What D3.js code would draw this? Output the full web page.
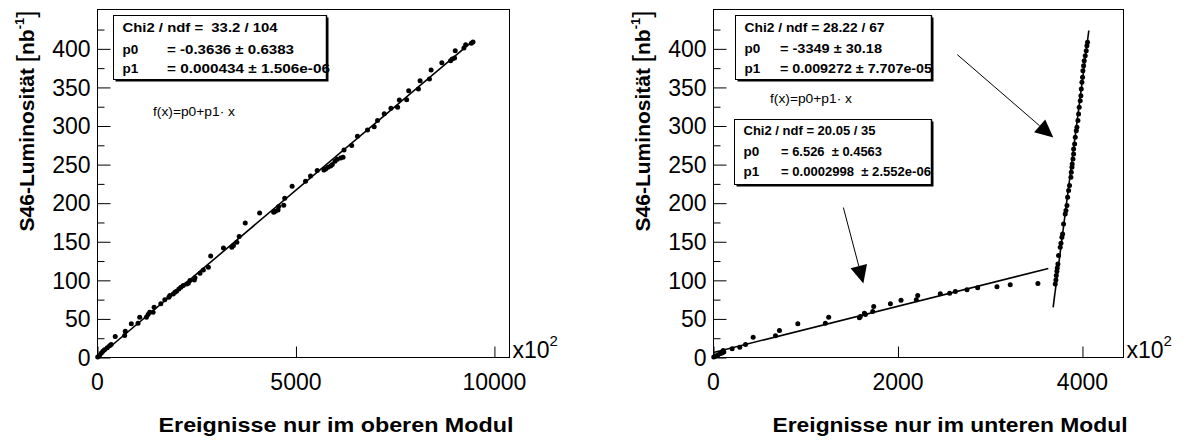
<!DOCTYPE html>
<html>
<head>
<meta charset="utf-8">
<script src="https://cdn.jsdelivr.net/npm/d3@7"></script>
<style>
  html, body { margin: 0; padding: 0; background: #fff; }
  svg { display: block; font-family: "Liberation Sans", Arial, Helvetica, sans-serif; }
  text { white-space: pre; }
</style>
</head>
<body>
<svg id="chart" width="1187" height="440"></svg>
<script>
// ---------------- data (x in units of 10^2 events, y in nb^-1) ----------------
const leftX = [5, 51, 93, 135, 177, 245, 304, 346, 447, 684, 700, 852, 1021, 1063, 1232, 1274, 1316, 1401, 1426, 1595,
  1696, 1797, 1823, 1907, 1949, 1992, 2051, 2101, 2160, 2245, 2287, 2329, 2439, 2456, 2582, 2667, 2793, 2852, 3173, 3384,
  3426, 3511, 3570, 3722, 4084, 4439, 4481, 4549, 4565, 4692, 4717, 4903, 5241, 5367, 5536, 5705, 5747, 5806, 5873, 5916,
  5983, 6042, 6127, 6186, 6211, 6405, 6549, 6802, 6971, 7055, 7224, 7393, 7561, 7604, 7789, 7840, 8085, 8127, 8363, 8405,
  8675, 8895, 8937, 8996, 9013, 9232, 9275, 9418, 9460];
const leftY = [0.5, 2.5, 5.6, 8.2, 9.9, 12.5, 15.1, 16.8, 27.2, 28.5, 34.1, 43.6, 44.4, 52.2, 52.2, 55.7, 58.7, 58.7, 65.2, 69.5,
  74.7, 78.1, 80.3, 82.4, 84.6, 85.9, 88.9, 91.1, 93.2, 95.4, 96.3, 99.7, 100.6, 103.2, 109.2, 113.5, 117.0, 131.7, 142.0, 142.9,
  145.0, 149.4, 156.7, 174.4, 187.4, 188.2, 189.5, 191.2, 195.6, 197.3, 206.4, 221.9, 228.4, 235.3, 242.2, 243.1, 244.4, 246.5, 248.2, 250.0,
  254.3, 256.9, 258.6, 259.5, 269.0, 274.6, 286.7, 294.9, 299.2, 307.0, 316.0, 323.0, 324.2, 333.8, 334.2, 345.8, 348.0, 358.8, 360.9, 372.6,
  382.1, 384.7, 386.9, 388.1, 397.6, 401.1, 405.4, 407.1, 408.9];

const rightX = [3, 22, 47, 69, 94, 112, 105, 202, 285, 347, 430, 672, 715, 914, 1213, 1249, 1582, 1592, 1636, 1647,
  1726, 1737, 1918, 2033, 2199, 2214, 2459, 2560, 2622, 2748, 2864, 3073, 3217, 3517,
  3705, 3712, 3716, 3723, 3727, 3734, 3741, 3759, 3767, 3777, 3785, 3795, 3813, 3821, 3832, 3839, 3850, 3860, 3875, 3879,
  3886, 3889, 3897, 3904, 3904, 3915, 3922, 3933, 3940, 3951, 3958, 3965, 3976, 3983, 3987, 3994, 4001, 4005, 4012, 4019,
  4030, 4041, 4048, 4055];
const rightY = [0.5, 1.8, 3.1, 4.8, 5.7, 7.0, 9.1, 11.3, 13.4, 16.9, 26.4, 28.1, 35.0, 43.6, 44.5, 52.3, 51.4, 53.2, 57.5, 55.7,
  59.6, 66.1, 69.6, 74.3, 74.7, 80.4, 82.5, 83.4, 85.5, 87.7, 90.3, 91.6, 94.2, 95.9,
  95.4, 100.6, 106.2, 111.8, 116.1, 121.3, 132.1, 142.9, 148.1, 155.8, 160.2, 173.1, 186.1, 190.4, 196.9, 207.7, 216.3, 222.8, 233.6, 240.0,
  246.5, 250.8, 257.3, 263.8, 270.3, 276.7, 285.4, 294.0, 298.3, 307.0, 315.6, 324.2, 332.9, 339.3, 348.0, 356.6, 363.1, 371.7, 378.2, 384.7,
  391.2, 397.6, 404.1, 408.4];

// fit results (p0, p1 per 10^2 events) and drawn ranges
const leftFit = [-0.3636, 0.0434];
const leftFitRange = [0, 9460];
const rightFitLow = [6.526, 0.02998];
const rightFitLowRange = [0, 3630];
const rightFitHigh = [-3349, 0.9272];
const rightFitHighRange = [3682, 4069];

// tick values
const yTicksMajor = [0, 50, 100, 150, 200, 250, 300, 350, 400];
const yTicksMinor = [25, 75, 125, 175, 225, 275, 325, 375, 425];
const xTicksLeft = [0, 5000, 10000];
const xTicksRight = [0, 2000, 4000];
const xDomainLeft = [0, 10380];
const xDomainRight = [0, 4445];
const yDomain = [0, 451];

// stat box texts
const statLeft = [["Chi2 / ndf =  33.2 / 104", ""], ["p0", "= -0.3636 \u00b1 0.6383"], ["p1", "= 0.000434 \u00b1 1.506e-06"]];
const statRight1 = [["Chi2 / ndf = 28.22 / 67", ""], ["p0", "= -3349 \u00b1 30.18"], ["p1", "= 0.009272 \u00b1 7.707e-05"]];
const statRight2 = [["Chi2 / ndf = 20.05 / 35", ""], ["p0", "= 6.526  \u00b1 0.4563"], ["p1", "= 0.0002998  \u00b1 2.552e-06"]];

// arrows (data coordinates, right panel): [x0, y0, x1(tip), y1(tip)]
const arrows = [[2643, 392.5, 3684, 285], [1408, 194.3, 1625, 95.9]];

// ---------------- drawing ----------------
const svg = d3.select("#chart");
svg.append("rect").attr("width", 1187).attr("height", 440).attr("fill", "#fff");

function panel(opts) {
  const { left, right, top, bottom, xDomain, xTicks, px, py, fits, title, stats, fLabel } = opts;
  const x = d3.scaleLinear().domain(xDomain).range([left, right]);
  const y = d3.scaleLinear().domain(yDomain).range([bottom, top]);
  const g = svg.append("g");

  // frame
  g.append("rect").attr("x", left).attr("y", top).attr("width", right - left).attr("height", bottom - top)
    .attr("fill", "none").attr("stroke", "#000").attr("stroke-width", 1);

  // y axis: major + minor ticks (inside)
  const yAxisMaj = d3.axisRight(y).tickValues(yTicksMajor).tickSize(13).tickFormat("");
  const yAxisMin = d3.axisRight(y).tickValues(yTicksMinor).tickSize(7).tickFormat("");
  [yAxisMaj, yAxisMin].forEach(ax => {
    const a = g.append("g").attr("transform", `translate(${left},0)`).call(ax);
    a.select(".domain").remove();
    a.selectAll("line").attr("stroke", "#000");
  });
  // y labels
  g.append("g").selectAll("text").data(yTicksMajor).join("text")
    .attr("x", left - 7).attr("y", d => y(d)).attr("dy", "0.36em")
    .attr("text-anchor", "end").attr("font-size", 23).text(d => d);

  // x axis ticks (inside, upward)
  const xa = g.append("g").attr("transform", `translate(0,${bottom})`)
    .call(d3.axisTop(x).tickValues(xTicks).tickSize(11).tickFormat(""));
  xa.select(".domain").remove();
  xa.selectAll("line").attr("stroke", "#000");
  g.append("g").selectAll("text").data(xTicks).join("text")
    .attr("x", d => x(d)).attr("y", bottom + 32)
    .attr("text-anchor", "middle").attr("font-size", 23).text(d => d);

  // x10^2
  const xt = g.append("text").attr("x", right + 3).attr("y", bottom).attr("font-size", 23);
  xt.append("tspan").text("x10");
  xt.append("tspan").attr("dy", -12).attr("font-size", 15).text("2");

  // axis titles
  g.append("text").attr("x", right + 4).attr("y", 432).attr("text-anchor", "end")
    .attr("font-size", 21).attr("font-weight", "bold")
    .attr("textLength", 355).attr("lengthAdjust", "spacingAndGlyphs").text(title);
  const yt = g.append("text").attr("transform", `translate(${left - 64},${top + 1}) rotate(-90)`)
    .attr("text-anchor", "end").attr("font-size", 21).attr("font-weight", "bold");
  yt.append("tspan").text("S46-Luminosit\u00e4t ");
  yt.append("tspan").attr("font-weight", "normal").attr("font-size", 26).attr("dy", 1).text("[");
  yt.append("tspan").attr("dy", -1).text("nb");
  yt.append("tspan").attr("font-size", 13).attr("dy", -10).text("-1");
  yt.append("tspan").attr("font-weight", "normal").attr("font-size", 26).attr("dy", 11).text("]");

  // fit lines
  fits.forEach(([p, r]) => {
    const pts = r.map(v => [v, p[0] + p[1] * v]);
    g.append("path").attr("d", d3.line().x(d => x(d[0])).y(d => y(Math.max(d[1], 0)))(pts))
      .attr("stroke", "#000").attr("stroke-width", 1.6).attr("fill", "none");
  });

  // points
  g.append("g").selectAll("circle").data(px.map((v, i) => [v, py[i]])).join("circle")
    .attr("cx", d => x(d[0])).attr("cy", d => y(d[1])).attr("r", 2.5).attr("fill", "#000");

  // f(x) label
  g.append("text").attr("x", fLabel[0]).attr("y", fLabel[1]).attr("font-size", 13)
    .attr("textLength", 82).attr("lengthAdjust", "spacingAndGlyphs").text("f(x)=p0+p1\u00b7 x");

  // stat boxes
  stats.forEach(s => {
    const [bx, by, bw, bh, eqX, lines, bases, widths] = s;
    const sb = g.append("g");
    sb.append("rect").attr("x", bx + 2).attr("y", by + 2).attr("width", bw).attr("height", bh).attr("fill", "#000");
    sb.append("rect").attr("x", bx).attr("y", by).attr("width", bw).attr("height", bh)
      .attr("fill", "#fff").attr("stroke", "#000").attr("stroke-width", 1);
    lines.forEach((ln, i) => {
      const base = bases[i];
      const t0 = sb.append("text").attr("x", bx + 9).attr("y", base).attr("font-size", 13.5).attr("font-weight", "bold").text(ln[0]);
      if (!ln[1]) t0.attr("textLength", widths[i]).attr("lengthAdjust", "spacingAndGlyphs");
      if (ln[1]) sb.append("text").attr("x", eqX).attr("y", base).attr("font-size", 13.5).attr("font-weight", "bold")
        .attr("textLength", widths[i]).attr("lengthAdjust", "spacingAndGlyphs").text(ln[1]);
    });
    // re-stroke right border over overflowing text
    sb.append("line").attr("x1", bx + bw).attr("x2", bx + bw).attr("y1", by).attr("y2", by + bh)
      .attr("stroke", "#000").attr("stroke-width", 1.5);
  });

  return { x, y, g };
}

panel({
  left: 97.5, right: 509.5, top: 9.5, bottom: 357.5,
  xDomain: xDomainLeft, xTicks: xTicksLeft, px: leftX, py: leftY,
  fits: [[leftFit, leftFitRange]],
  title: "Ereignisse nur im oberen Modul",
  fLabel: [153, 116],
  stats: [[113.5, 15.5, 213, 64, 167, statLeft, [32, 54, 73], [155, 127, 163]]]
});

const R = panel({
  left: 713.5, right: 1123.5, top: 9.5, bottom: 357.5,
  xDomain: xDomainRight, xTicks: xTicksRight, px: rightX, py: rightY,
  fits: [[rightFitLow, rightFitLowRange], [rightFitHigh, rightFitHighRange]],
  title: "Ereignisse nur im unteren Modul",
  fLabel: [770, 103],
  stats: [[735.5, 15.5, 196, 64, 780, statRight1, [32, 53, 73], [140, 102, 152]],
          [734.5, 119.5, 197, 65, 781, statRight2, [135, 156, 176], [132, 101, 150]]]
});

// arrows
arrows.forEach(a => {
  const x0 = R.x(a[0]), y0 = R.y(a[1]), x1 = R.x(a[2]), y1 = R.y(a[3]);
  const ang = Math.atan2(y1 - y0, x1 - x0);
  const L = 18, W = 8.5;
  const bx = x1 - L * Math.cos(ang), by = y1 - L * Math.sin(ang);
  R.g.append("line").attr("x1", x0).attr("y1", y0).attr("x2", bx).attr("y2", by)
    .attr("stroke", "#000").attr("stroke-width", 1);
  const p = [[x1, y1],
    [bx + W * Math.sin(ang), by - W * Math.cos(ang)],
    [bx - W * Math.sin(ang), by + W * Math.cos(ang)]];
  R.g.append("path").attr("d", "M" + p.map(q => q.join(",")).join("L") + "Z").attr("fill", "#000");
});
</script>
</body>
</html>
